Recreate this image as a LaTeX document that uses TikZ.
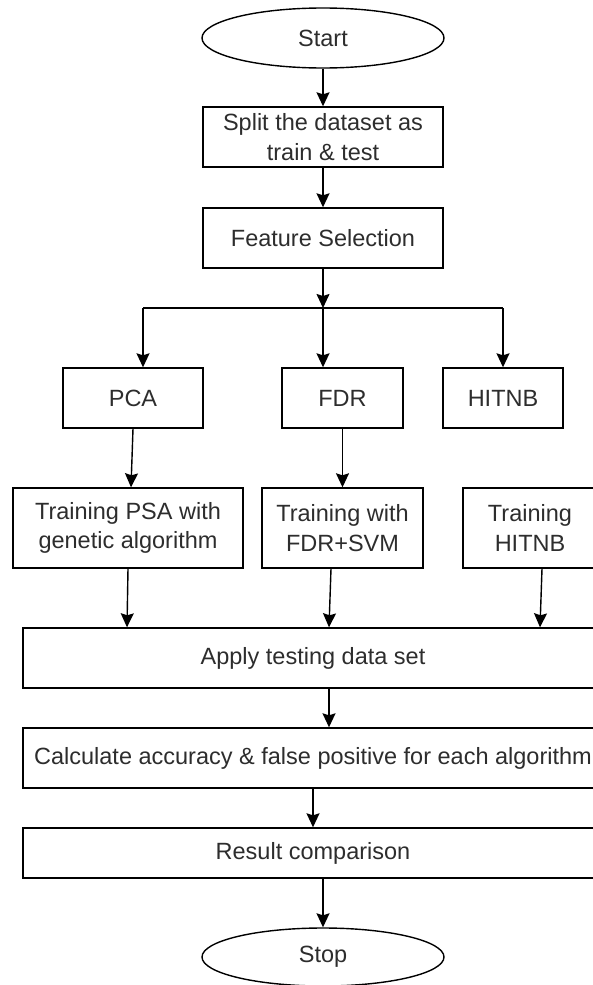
\documentclass[tikz,border=0pt]{standalone}
\usepackage{fontspec}
\setmainfont{Liberation Sans}
\usepackage{xcolor}
\usetikzlibrary{
    arrows.meta,
    positioning,
    shapes.geometric
}
\definecolor{txtGray}{RGB}{45,45,45}
\tikzset{
  block/.style   = {draw, line width=1.4pt, inner sep=0pt, minimum height=60pt,
                    align=center, text=txtGray,
                    font=\fontsize{23.5}{29.5}\selectfont},
  tblock/.style  = {block, minimum height=80pt},
  term/.style    = {block, ellipse, minimum width=242pt},
  arr/.style     = {-{Stealth[width=13pt, length=14pt, inset=2pt]}, line width=1.4pt},
  plain/.style   = {line width=1.4pt}
}

\begin{document}
\begin{tikzpicture}[x=1pt, y=-1pt]
  % Frame
  \useasboundingbox (0,0) rectangle (592,985);
  \fill[white] (0,0) rectangle (592,985);

  % Main column
  \node[term] (start) at (323,38) {Start};
  \node[block, minimum width=240pt] (split) at (323,137) {Split the dataset as\\train \& test};
  \node[block, minimum width=240pt] (feat) at (323,238) {Feature Selection};

  % Methods
  \node[block, minimum width=140pt] (pca) at (133,398) {PCA};
  \node[block, minimum width=121pt] (fdr) at (342.5,398) {FDR};
  \node[block, minimum width=120pt] (hitnb) at (503,398) {HITNB};

  % Training
  \node[tblock, minimum width=230pt] (trpsa) at (128,528) {Training PSA with\\genetic algorithm};
  \node[tblock, minimum width=161pt] (trfdr) at (342.5,528) {Training with\\FDR+SVM};
  \node[tblock, minimum width=134pt] (trhit) at (530,528) {Training\\HITNB};

  % Testing and results
  \node[block, minimum width=580pt] (apply) at (313,658) {Apply testing data set};
  \node[block, minimum width=580pt] (calc) at (313,758) {Calculate accuracy \& false positive for each algorithm};
  \node[block, minimum width=580pt, minimum height=50pt] (result) at (313,853) {Result comparison};
  \node[term, minimum height=58pt] (stop) at (323,957) {Stop};

  % Fork
  \coordinate (fork) at (323,308);
  \coordinate (forkL) at (143,308);
  \coordinate (forkR) at (503,308);

  % Arrows
  \draw[arr] (start) -- (split);
  \draw[arr] (split) -- (feat);
  \draw[arr] (feat.south) -- (fork);
  \draw[plain] (forkL) -- (forkR);
  \draw[arr] (forkL) -- (forkL |- pca.north);
  \draw[arr] (fork) -- (fork |- fdr.north);
  \draw[arr] (forkR) -- (hitnb.north);

  \draw[arr] (pca.south) -- ([xshift=3pt]trpsa.north);
  \draw[arr] (fdr.south) -- (trfdr.north);

  \draw[arr] (trpsa.south) -- ([xshift=-1pt]trpsa.south |- apply.north);
  \draw[arr] ([xshift=-11.5pt]trfdr.south) -- ([xshift=-13.5pt]trfdr.south |- apply.north);
  \draw[arr] ([xshift=12pt]trhit.south) -- ([xshift=10pt]trhit.south |- apply.north);

  \draw[arr] ([xshift=16pt]apply.south) -- ([xshift=16pt]apply.south |- calc.north);
  \draw[arr] (calc) -- (result);
  \draw[arr] (stop.north |- result.south) -- (stop.north);
\end{tikzpicture}
\end{document}
